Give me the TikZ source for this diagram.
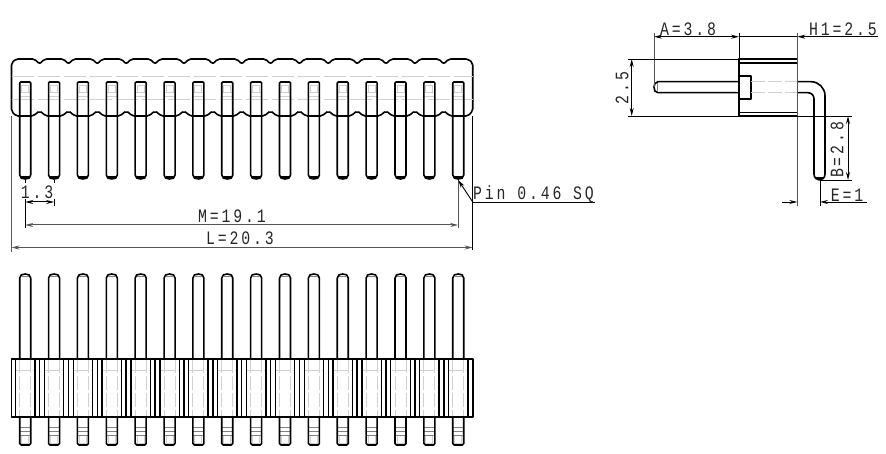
\documentclass[tikz,border=0pt]{standalone}
\usepackage{fontspec}
\setmainfont[FakeStretch=0.78,LetterSpace=15]{Liberation Mono}
\usetikzlibrary{arrows.meta}
\definecolor{dimgrey}{HTML}{555555}
\definecolor{hidgrey}{HTML}{D0D0D0}
\tikzset{
  outline/.style={draw=black,line width=1.6pt,line join=round},
  thin outline/.style={draw=black,line width=1.3pt},
  hidden/.style={draw=hidgrey,line width=0.9pt,dash pattern=on 22pt off 4pt},
  hidden short/.style={draw=hidgrey,line width=0.9pt,dash pattern=on 14pt off 3pt},
  detail/.style={draw=hidgrey,line width=0.9pt},
  detail dark/.style={draw=gray,line width=0.8pt},
  extline/.style={draw=dimgrey,line width=0.9pt},
  dimtip/.tip={Stealth[length=8pt,width=4pt]},
  dimline/.style={draw=dimgrey,line width=1pt,dimtip-dimtip},
  dimlabel/.style={font=\fontsize{19}{20}\selectfont,inner sep=0pt,text=black!85},
}
\begin{document}
\begin{tikzpicture}[x=1pt,y=-1pt]
\useasboundingbox (0,0) rectangle (886,454);
% ---- top view: body outline
\draw[outline,rounded corners=2pt] (11.5,70) -- (11.5,63) -- (16,59)
  \foreach \k in {0,...,14}{ -- ({39.6+28.87*\k-5},59) -- ({39.6+28.87*\k},64) -- ({39.6+28.87*\k+5},59) }
  -- (468,59) -- (472.7,63) -- (472.7,111) -- (468,116)
  \foreach \k in {14,...,0}{ -- ({39.6+28.87*\k+6},116) -- ({39.6+28.87*\k+3},113) -- ({39.6+28.87*\k},111) -- ({39.6+28.87*\k-3},113) -- ({39.6+28.87*\k-6},116) }
  -- (16,116) -- (11.5,111) -- cycle;
\draw[hidden] (11.5,76) -- (472.7,76);
\draw[hidden] (11.5,99) -- (472.7,99);
% ---- top view and front view pins
\foreach \k in {0,...,15}{
  \pgfmathsetmacro{\c}{25.2+28.87*\k}
  % top view pin
  \draw[detail] (\c-3.5,85) rectangle (\c+3.5,92);
  \draw[detail] (\c-5.5,92) -- (\c+5.5,92) (\c-5.5,96) -- (\c+5.5,96);
  \draw[outline,rounded corners=1pt] (\c-5.5,116) -- (\c-5.5,82) -- (\c+5.5,82) -- (\c+5.5,116);
  \draw[outline] (\c-5.5,116) -- (\c-5.5,175) .. controls (\c-5.5,178) and (\c-3,179) .. (\c,179) .. controls (\c+3,179) and (\c+5.5,178) .. (\c+5.5,175) -- (\c+5.5,116);
  \draw[outline] (\c-4,177) -- (\c+4,177);
  % front view, upper pin
  \draw[outline] (\c-5.5,359) -- (\c-5.5,278) .. controls (\c-5.5,275) and (\c-3,274) .. (\c,274) .. controls (\c+3,274) and (\c+5.5,275) .. (\c+5.5,278) -- (\c+5.5,359);
  \draw[detail dark] (\c-4,276) -- (\c+4,276);
  % front view, lower pin
  \draw[detail] (\c-3.5,435) rectangle (\c+3.5,443);
  \draw[detail dark] (\c-5.5,427) -- (\c+5.5,427) (\c-5.5,431) -- (\c+5.5,431) (\c-5.5,435) -- (\c+5.5,435);
  \draw[outline,rounded corners=1.5pt] (\c-5.5,417) -- (\c-5.5,445) -- (\c+5.5,445) -- (\c+5.5,417);
  % front view, hidden edges inside the body
  \draw[hidden short] (\c-5.5,359) -- (\c-5.5,417) (\c+5.5,359) -- (\c+5.5,417);
  \draw[hidden short] (\c-9,370) -- (\c+9,370);
  % front view, body lines beside each pin
  \draw[thin outline] (\c-9.7,359) -- (\c-9.7,417) (\c+9.7,359) -- (\c+9.7,417);
}
\foreach \k in {0,...,14}{
  \draw[outline] ({39.6+28.87*\k},359) -- ({39.6+28.87*\k},417);
}
\draw[outline] (11.5,359) rectangle (472.7,417);
% ---- pitch and width dimensions
\coordinate (pinA) at (25.2,180);
\coordinate (pinB) at (54.07,180);
\coordinate (pinL) at (458.2,180);
\coordinate (bodyL) at (11.5,116);
\coordinate (bodyR) at (472.7,116);
\coordinate (pitchA) at (25.2,202);
\coordinate (pitchB) at (54.07,202);
\coordinate (mA) at (25.2,225);
\coordinate (mB) at (458.2,225);
\coordinate (lA) at (11.5,247.5);
\coordinate (lB) at (472.7,247.5);
\coordinate (leaderEnd) at (472.7,202);
\coordinate (leaderTail) at (595,202);
\draw[draw=black,line width=0.9pt] (pinA) -- (25.2,183) (25.2,199) -- (25.2,228);
\draw[draw=black,line width=0.9pt] (pinB) -- (54.07,183) (54.07,199) -- (54.07,206);
\draw[extline] (pinL) -- (458.2,228);
\draw[extline] (bodyL) -- (11.5,252);
\draw[draw=black,line width=0.9pt] (bodyR) -- (472.7,250);
\draw[dimline,draw=black] (pitchA) -- (pitchB);
\draw[dimline] (mA) -- (mB);
\draw[dimline] (lA) -- (lB);
\draw[draw=black,line width=0.9pt] (leaderTail) -- (leaderEnd);
\draw[draw=black,line width=0.9pt,-dimtip] (leaderEnd) -- (pinL);
\node[dimlabel] (pitchLabel) at (37,192) {1.3};
\node[dimlabel] (mLabel) at (232,216) {M=19.1};
\node[dimlabel] (lLabel) at (240,238.5) {L=20.3};
\node[dimlabel,anchor=west] (pinLabel) at (473,194) {Pin 0.46 SQ};
% ---- side view: body
\draw[outline] (739,59) rectangle (797.3,116);
\draw[outline] (739,63) -- (797.3,63) (739,112.5) -- (797.3,112.5);
\draw[outline] (739,76) -- (751,76) -- (751,99) -- (739,99);
% ---- side view: pin
\draw[outline] (739,81.7) -- (658,81.7) .. controls (655,81.7) and (654,85) .. (654,87) .. controls (654,90) and (655,92.7) .. (658,92.7) -- (739,92.7);
\draw[detail dark] (657,83) -- (657,91.5);
\draw[hidden short] (751,81.7) -- (797.3,81.7) (751,92.7) -- (797.3,92.7);
\draw[outline] (797.3,81.7) -- (811,81.7) .. controls (818.7,81.7) and (825,88) .. (825,95.7) -- (825,174) .. controls (825,178) and (822,180) .. (819.5,180) .. controls (817,180) and (814,178) .. (814,174) -- (814,98.7) .. controls (814,95.4) and (811.3,92.7) .. (808,92.7) -- (797.3,92.7);
\draw[outline] (816,178) -- (823,178);
% ---- side view: dimensions
\coordinate (aTop) at (654,33);
\coordinate (aFoot) at (654,87);
\coordinate (a1) at (654,36.7);
\coordinate (a2) at (739,36.7);
\coordinate (h2) at (797.3,36.7);
\coordinate (hTail) at (877.6,36.7);
\coordinate (s1) at (631.7,59);
\coordinate (s2) at (631.7,116);
\coordinate (b1) at (848,116);
\coordinate (b2) at (848,180);
\coordinate (eL) at (797.3,202);
\coordinate (eR) at (820,202);
\draw[extline] (aTop) -- (aFoot);
\draw[draw=black,line width=0.9pt] (739,33) -- (739,59);
\draw[extline] (797.3,33) -- (797.3,206);
\draw[draw=black,line width=0.9pt] (628,59) -- (739,59) (628,116) -- (739,116);
\draw[draw=black,line width=0.9pt] (797.3,116) -- (852,116) (819.5,180) -- (852,180);
\draw[draw=black,line width=0.9pt] (820,180) -- (820,206);
\draw[dimline,draw=black] (a1) -- (a2);
\draw[draw=black,line width=0.9pt] (a2) -- (h2);
\draw[draw=black,line width=0.9pt,-dimtip] (hTail) -- (h2);
\draw[dimline,draw=black] (s1) -- (s2);
\draw[dimline,draw=black] (b1) -- (b2);
\draw[draw=black,line width=0.9pt,-dimtip] (782,202) -- (eL);
\draw[draw=black,line width=0.9pt,-dimtip] (867,202) -- (eR);
\node[dimlabel] (aLabel) at (688,29) {A=3.8};
\node[dimlabel] (hLabel) at (843,29.5) {H1=2.5};
\node[dimlabel,rotate=90] (sLabel) at (622,88) {2.5};
\node[dimlabel,rotate=90] (bLabel) at (837,150) {B=2.8};
\node[dimlabel] (eLabel) at (847,195) {E=1};
\end{tikzpicture}
\end{document}
